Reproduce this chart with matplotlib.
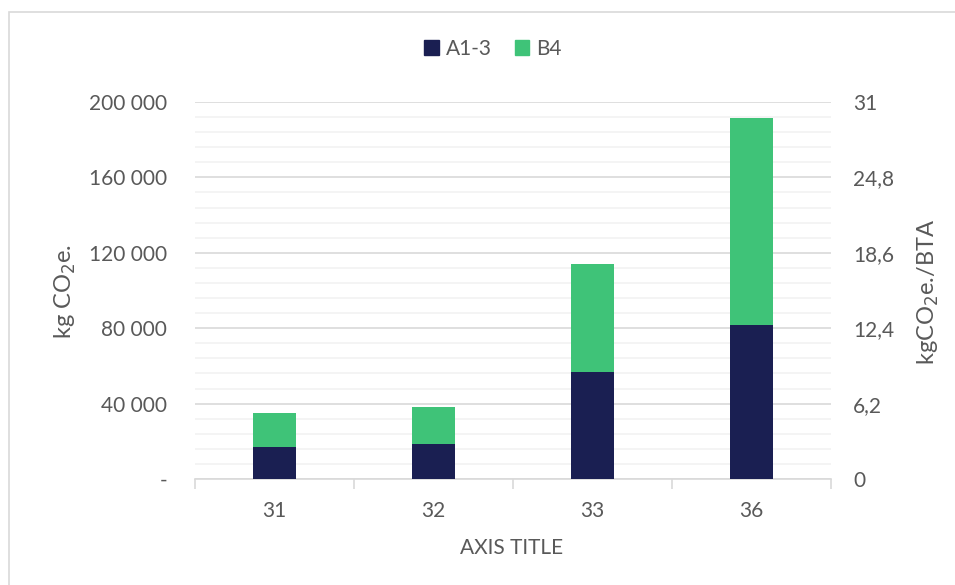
import matplotlib.pyplot as plt
import matplotlib.patches as mpatches
from matplotlib.ticker import FixedLocator, MultipleLocator, FuncFormatter

# data per building
categories = ['31', '32', '33', '36']
a13 = [17000, 18600, 56600, 81800]
b4 = [17900, 19500, 57400, 109700]

dark = '#1a1f52'
green = '#3fc378'
txt = '#595959'

plt.rcParams['font.family'] = ['Lato', 'DejaVu Sans']
plt.rcParams['font.size'] = 15

W, H = 955, 585
fig = plt.figure(figsize=(W / 100, H / 100), dpi=100)
ax = fig.add_axes([195 / W, 1 - 479 / H, 636 / W, 377 / H])

x = range(len(categories))
ax.bar(x, a13, width=0.27, color=dark, label='A1-3', zorder=3)
ax.bar(x, b4, width=0.27, bottom=a13, color=green, label='B4', zorder=3)

ax.set_xlim(-0.5, len(categories) - 0.5)
ax.set_ylim(0, 200000)
ax.yaxis.set_major_locator(MultipleLocator(40000))
ax.yaxis.set_minor_locator(MultipleLocator(8000))
ax.yaxis.set_major_formatter(FuncFormatter(
    lambda v, p: '-' if v == 0 else f'{int(v):,}'.replace(',', ' ')))
ax.grid(axis='y', which='major', color='#d9d9d9', lw=1.2, zorder=0)
ax.grid(axis='y', which='minor', color='#f2f2f2', lw=1.2, zorder=0)
ax.set_axisbelow(True)

# category labels in the middle, tick marks on the boundaries
ax.set_xticks(list(x))
ax.set_xticklabels(categories)
ax.xaxis.set_minor_locator(FixedLocator([i - 0.5 for i in range(len(categories) + 1)]))
ax.tick_params(axis='x', which='major', length=0, pad=16, colors=txt)
ax.tick_params(axis='x', which='minor', length=7, width=1.2, color='#d9d9d9')
ax.tick_params(axis='y', which='both', length=0, pad=20, colors=txt)
for s in ['top', 'left', 'right']:
    ax.spines[s].set_visible(False)
ax.spines['bottom'].set_color('#d9d9d9')
ax.spines['bottom'].set_linewidth(1.2)

# secondary axis per BTA
ax2 = ax.twinx()
ax2.set_ylim(0, 31)
ax2.yaxis.set_major_locator(MultipleLocator(6.2))
ax2.yaxis.set_major_formatter(FuncFormatter(
    lambda v, p: f'{v:g}'.replace('.', ',') if abs(v) > 1e-9 else '0'))
ax2.tick_params(axis='y', length=0, pad=16, colors=txt)
for s in ax2.spines.values():
    s.set_visible(False)

# axis titles
fig.text(65 / W, 1 - 291 / H, 'kg CO$_2$e.', rotation=90, ha='center', va='center',
         color=txt, fontsize=17)
fig.text(928 / W, 1 - 292 / H, 'kgCO$_2$e./BTA', rotation=90, ha='center', va='center',
         color=txt, fontsize=17)
fig.text(512 / W, 1 - 548 / H, 'AXIS TITLE', ha='center', va='center',
         color=txt, fontsize=15)

leg = fig.legend(handles=[mpatches.Patch(color=dark, label='A1-3'),
                          mpatches.Patch(color=green, label='B4')],
                 loc='center', bbox_to_anchor=(493 / W, 1 - 49 / H), ncol=2,
                 frameon=False, handlelength=0.7, handleheight=0.7,
                 handletextpad=0.35, columnspacing=1.1, fontsize=15)
for t in leg.get_texts():
    t.set_color(txt)

# chart frame
fig.patches.append(mpatches.Rectangle((9 / W, -0.1), 1.2, 1.1 - 12 / H,
                                      transform=fig.transFigure, fill=False,
                                      edgecolor='#d9d9d9', lw=1.2))

fig.savefig('out.png', dpi=100)
